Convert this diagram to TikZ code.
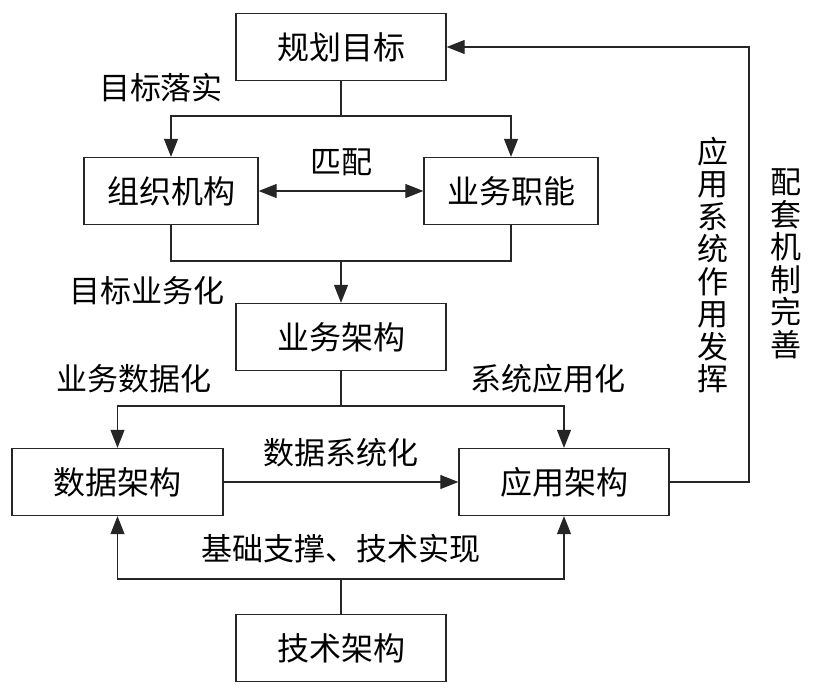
\documentclass[tikz,border=0pt]{standalone}
\usepackage{fontspec}
\setmainfont{Noto Sans CJK SC}
\usetikzlibrary{arrows.meta}

\tikzset{
    box/.style={draw, line width=1.3pt, minimum height=67pt, inner sep=0pt,
        font=\fontsize{32}{35}\selectfont},
    lbl/.style={font=\fontsize{31}{34}\selectfont, inner sep=0pt},
    vlbl/.style={font=\fontsize{31}{32.5}\selectfont, align=center, inner sep=0pt},
}

\begin{document}
\begin{tikzpicture}[x=1pt, y=-1pt, >={Triangle[length=18pt,width=14pt]},
    line width=1.1pt, draw=black!85]

    \useasboundingbox (0,0) rectangle (815,691);

    % cadres
    \node[box, minimum width=210pt] (goal) at (341,47) {规划目标};
    \node[box, minimum width=174pt] (org)  at (171,191) {组织机构};
    \node[box, minimum width=174pt] (func) at (511,191) {业务职能};
    \node[box, minimum width=210pt] (biz)  at (341,337) {业务架构};
    \node[box, minimum width=211pt] (data) at (117.5,482) {数据架构};
    \node[box, minimum width=210pt] (app)  at (564,482) {应用架构};
    \node[box, minimum width=210pt] (tech) at (341,648) {技术架构};

    % points de branchement
    \coordinate (b1) at (341,116);
    \coordinate (b2) at (341,261);
    \coordinate (b3) at (341,406);
    \coordinate (b4) at (341,579);
    \coordinate (fb) at (749,0);

    % objectifs -> organisation / fonctions
    \draw (goal.south) -- (b1);
    \draw[->] (b1) -| (org.north);
    \draw[->] (b1) -| (func.north);
    \draw[<->] (org) -- (func);

    % -> architecture metier
    \draw (org.south) |- (b2) -| (func.south);
    \draw[->] (b2) -- (biz.north);

    % -> donnees / applications
    \draw (biz.south) -- (b3);
    \draw[->] (b3) -| (data.north);
    \draw[->] (b3) -| (app.north);
    \draw[->] (data) -- (app);

    % technique
    \draw (tech.north) -- (b4);
    \draw[->] (b4) -| (data.south);
    \draw[->] (b4) -| (app.south);

    % retour
    \draw[->] (app.east) -| (fb |- goal.east) -- (goal.east);

    % textes
    \node[lbl] (t1) at (161,88) {目标落实};
    \node[lbl] (t2) at (341,162) {匹配};
    \node[lbl] (t3) at (147,291) {目标业务化};
    \node[lbl] (t4) at (134,379) {业务数据化};
    \node[lbl] (t5) at (548,379) {系统应用化};
    \node[lbl] (t6) at (341,453) {数据系统化};
    \node[lbl] (t7) at (341,549) {基础支撑、技术实现};
    \node[vlbl] (t8) at (713,265) {应\\用\\系\\统\\作\\用\\发\\挥};
    \node[vlbl] (t9) at (786,264) {配\\套\\机\\制\\完\\善};

\end{tikzpicture}
\end{document}
